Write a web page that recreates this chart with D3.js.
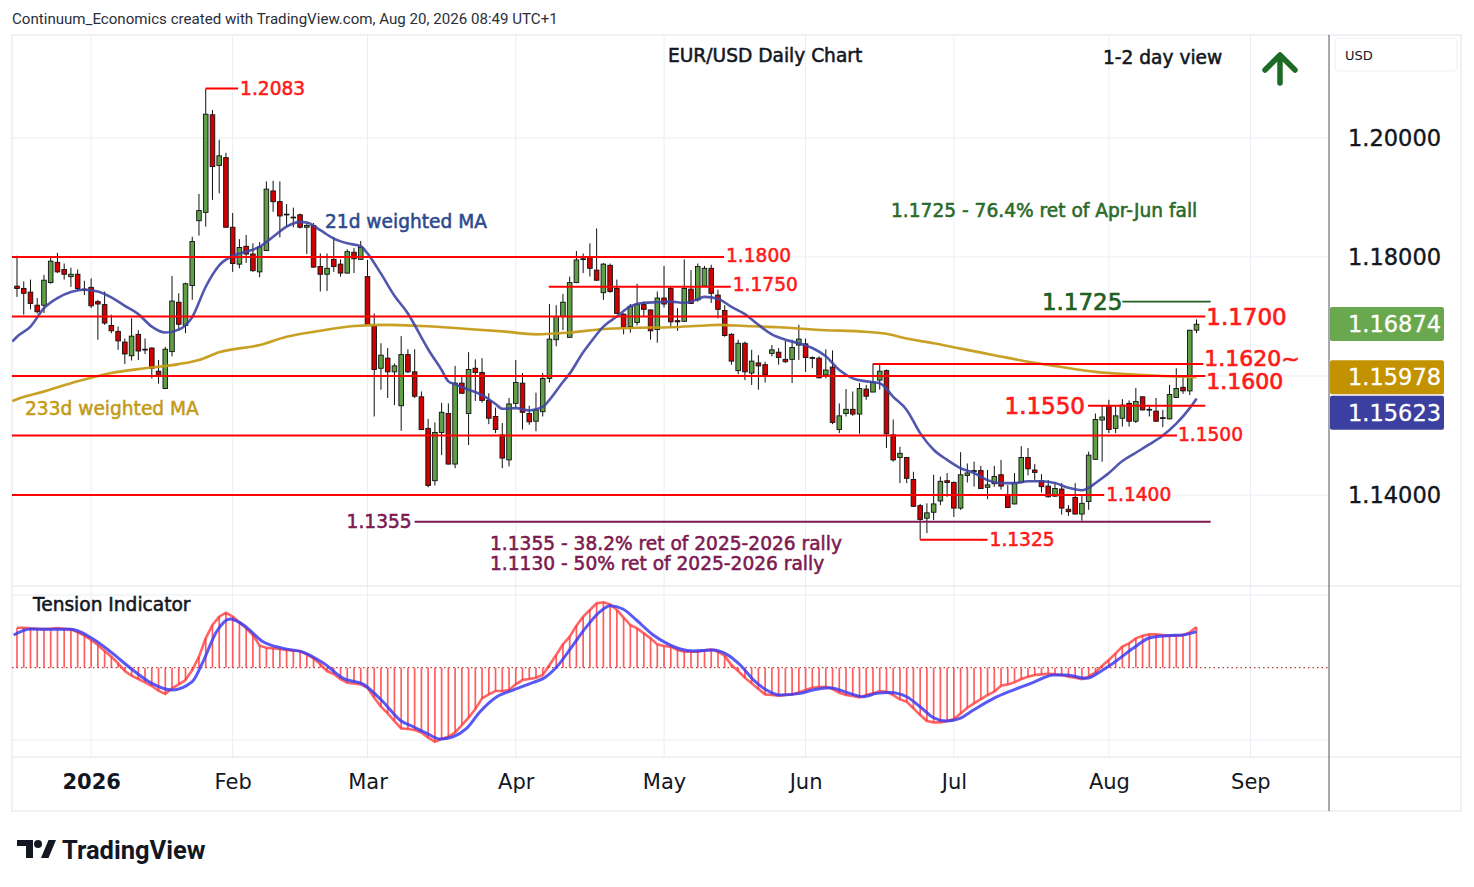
<!DOCTYPE html>
<html><head><meta charset="utf-8">
<script src="https://cdn.jsdelivr.net/npm/d3@7"></script>
<style>body{margin:0;background:#fff}</style>
</head><body>
<svg id="c" width="1474" height="887"></svg>
<script>
// ---------- DATA ----------
const firstBarDate = "2025-12-16";
const holidays = ["2025-12-25", "2026-01-01"];
// [open, high, low, close]
const candles = [
[1.1751,1.1802,1.1733,1.1747],[1.1747,1.1759,1.1703,1.1739],[1.1741,1.1762,1.1712,1.1722],[1.1719,1.1731,1.1705,1.1708],
[1.1719,1.1770,1.1706,1.1761],[1.1757,1.1801,1.1755,1.1793],[1.1791,1.1807,1.1773,1.1775],[1.1779,1.1789,1.1762,1.1771],
[1.1767,1.1782,1.1750,1.1771],[1.1771,1.1779,1.1743,1.1747],[1.1745,1.1760,1.1736,1.1746],[1.1749,1.1764,1.1714,1.1718],
[1.1725,1.1728,1.1661,1.1721],[1.1720,1.1742,1.1686,1.1689],[1.1685,1.1703,1.1672,1.1676],[1.1675,1.1683,1.1644,1.1659],
[1.1657,1.1663,1.1620,1.1637],[1.1634,1.1697,1.1626,1.1667],[1.1670,1.1677,1.1627,1.1642],[1.1645,1.1663,1.1637,1.1644],
[1.1647,1.1648,1.1596,1.1613],[1.1608,1.1627,1.1587,1.1599],[1.1579,1.1649,1.1578,1.1645],[1.1641,1.1768,1.1633,1.1726],
[1.1724,1.1739,1.1677,1.1687],[1.1685,1.1757,1.1672,1.1755],[1.1752,1.1834,1.1728,1.1826],[1.1861,1.1906,1.1836,1.1878],
[1.1875,1.2083,1.1851,1.2040],[1.2039,1.2047,1.1896,1.1952],[1.1954,1.1997,1.1907,1.1970],[1.1967,1.1975,1.1849,1.1850],
[1.1850,1.1874,1.1775,1.1789],[1.1788,1.1830,1.1781,1.1816],[1.1818,1.1837,1.1790,1.1805],[1.1805,1.1823,1.1775,1.1777],
[1.1775,1.1825,1.1766,1.1817],[1.1811,1.1927,1.1810,1.1914],[1.1911,1.1928,1.1876,1.1893],[1.1893,1.1927,1.1833,1.1869],
[1.1871,1.1889,1.1851,1.1872],[1.1867,1.1883,1.1850,1.1866],[1.1871,1.1873,1.1848,1.1850],[1.1850,1.1857,1.1805,1.1853],
[1.1853,1.1857,1.1782,1.1783],[1.1784,1.1806,1.1742,1.1771],[1.1771,1.1806,1.1743,1.1781],[1.1796,1.1834,1.1775,1.1784],
[1.1788,1.1796,1.1767,1.1773],[1.1773,1.1813,1.1772,1.1809],[1.1808,1.1815,1.1773,1.1797],[1.1796,1.1827,1.1795,1.1816],
[1.1767,1.1795,1.1686,1.1687],[1.1684,1.1705,1.1532,1.1611],[1.1613,1.1655,1.1577,1.1635],[1.1630,1.1647,1.1563,1.1607],
[1.1607,1.1621,1.1551,1.1617],[1.1550,1.1667,1.1508,1.1636],[1.1636,1.1645,1.1605,1.1607],[1.1607,1.1645,1.1563,1.1566],
[1.1565,1.1574,1.1509,1.1510],[1.1512,1.1528,1.1413,1.1416],[1.1424,1.1522,1.1416,1.1505],[1.1505,1.1555,1.1467,1.1539],
[1.1537,1.1554,1.1451,1.1452],[1.1452,1.1617,1.1445,1.1588],[1.1588,1.1599,1.1570,1.1571],[1.1537,1.1640,1.1484,1.1611],
[1.1613,1.1628,1.1558,1.1606],[1.1606,1.1630,1.1555,1.1559],[1.1559,1.1571,1.1519,1.1529],[1.1532,1.1547,1.1504,1.1510],
[1.1501,1.1521,1.1445,1.1462],[1.1459,1.1563,1.1448,1.1553],[1.1554,1.1627,1.1546,1.1589],[1.1588,1.1605,1.1510,1.1539],
[1.1537,1.1550,1.1518,1.1523],[1.1524,1.1572,1.1507,1.1543],[1.1540,1.1605,1.1532,1.1596],[1.1596,1.1721,1.1589,1.1662],
[1.1661,1.1719,1.1650,1.1700],[1.1700,1.1738,1.1677,1.1724],[1.1665,1.1767,1.1664,1.1757],[1.1757,1.1810,1.1756,1.1795],
[1.1796,1.1806,1.1773,1.1797],[1.1799,1.1823,1.1767,1.1781],[1.1778,1.1848,1.1760,1.1761],[1.1740,1.1790,1.1728,1.1788],
[1.1786,1.1789,1.1740,1.1742],[1.1747,1.1762,1.1704,1.1705],[1.1704,1.1705,1.1670,1.1682],[1.1683,1.1721,1.1673,1.1717],
[1.1690,1.1755,1.1685,1.1720],[1.1720,1.1725,1.1699,1.1712],[1.1711,1.1712,1.1661,1.1676],[1.1678,1.1742,1.1656,1.1731],
[1.1731,1.1785,1.1715,1.1721],[1.1747,1.1750,1.1684,1.1691],[1.1693,1.1714,1.1676,1.1691],[1.1692,1.1796,1.1691,1.1747],
[1.1746,1.1778,1.1721,1.1722],[1.1728,1.1789,1.1725,1.1784],[1.1751,1.1785,1.1750,1.1781],[1.1781,1.1787,1.1723,1.1739],
[1.1736,1.1745,1.1697,1.1712],[1.1710,1.1719,1.1666,1.1668],[1.1670,1.1672,1.1619,1.1625],[1.1609,1.1661,1.1603,1.1655],
[1.1655,1.1658,1.1593,1.1607],[1.1605,1.1644,1.1585,1.1625],[1.1622,1.1635,1.1577,1.1617],[1.1619,1.1624,1.1589,1.1602],
[1.1638,1.1652,1.1633,1.1644],[1.1640,1.1647,1.1619,1.1631],[1.1628,1.1659,1.1622,1.1624],[1.1628,1.1661,1.1588,1.1648],
[1.1652,1.1686,1.1627,1.1662],[1.1654,1.1663,1.1607,1.1631],[1.1631,1.1633,1.1613,1.1630],[1.1630,1.1633,1.1596,1.1597],
[1.1602,1.1645,1.1596,1.1610],[1.1615,1.1643,1.1519,1.1522],[1.1510,1.1554,1.1504,1.1533],[1.1537,1.1578,1.1532,1.1544],
[1.1544,1.1574,1.1533,1.1536],[1.1536,1.1588,1.1503,1.1579],[1.1578,1.1585,1.1560,1.1566],[1.1573,1.1621,1.1573,1.1589],
[1.1593,1.1621,1.1577,1.1608],[1.1609,1.1611,1.1479,1.1503],[1.1501,1.1527,1.1456,1.1459],[1.1463,1.1481,1.1420,1.1470],
[1.1463,1.1464,1.1420,1.1428],[1.1426,1.1439,1.1380,1.1381],[1.1382,1.1385,1.1325,1.1359],[1.1361,1.1386,1.1336,1.1370],
[1.1371,1.1434,1.1358,1.1385],[1.1390,1.1431,1.1383,1.1423],[1.1424,1.1437,1.1397,1.1421],[1.1421,1.1423,1.1363,1.1378],
[1.1378,1.1472,1.1375,1.1434],[1.1433,1.1453,1.1421,1.1437],[1.1440,1.1456,1.1414,1.1441],[1.1441,1.1449,1.1410,1.1411],
[1.1413,1.1442,1.1393,1.1417],[1.1419,1.1449,1.1414,1.1431],[1.1434,1.1459,1.1409,1.1415],[1.1401,1.1417,1.1378,1.1379],
[1.1385,1.1437,1.1384,1.1421],[1.1421,1.1482,1.1420,1.1463],[1.1463,1.1479,1.1433,1.1444],[1.1442,1.1452,1.1425,1.1438],
[1.1424,1.1435,1.1404,1.1414],[1.1415,1.1425,1.1396,1.1397],[1.1398,1.1421,1.1397,1.1411],[1.1410,1.1420,1.1367,1.1378],
[1.1376,1.1383,1.1365,1.1372],[1.1396,1.1420,1.1367,1.1368],[1.1368,1.1401,1.1357,1.1386],[1.1389,1.1473,1.1375,1.1467],
[1.1460,1.1537,1.1459,1.1527],[1.1526,1.1550,1.1456,1.1531],[1.1549,1.1560,1.1504,1.1510],[1.1512,1.1549,1.1504,1.1533],
[1.1529,1.1561,1.1515,1.1551],[1.1554,1.1559,1.1515,1.1524],[1.1524,1.1580,1.1521,1.1557],[1.1565,1.1566,1.1542,1.1543],
[1.1544,1.1550,1.1532,1.1543],[1.1541,1.1563,1.1523,1.1524],[1.1530,1.1543,1.1514,1.1529],[1.1528,1.1585,1.1527,1.1569],
[1.1564,1.1613,1.1563,1.1579],[1.1581,1.1599,1.1570,1.1575],[1.1575,1.1677,1.1568,1.1677],[1.1677,1.1695,1.1672,1.1687]
];
// [bar index, value]
const wma21 = [[-0.7,1.1658],[0,1.1666],[2,1.1683],[4,1.1714],[6,1.1731],[8,1.1741],[10,1.1745],[12,1.1742],[14,1.1732],[16,1.1718],
[18,1.1704],[20,1.1683],[22,1.1673],[24,1.1678],[26,1.1699],[28,1.1750],[30,1.1786],[32,1.1802],[34,1.1809],[36,1.1817],
[38,1.1834],[40,1.1851],[42,1.1859],[43,1.1858],[45,1.1845],[47,1.1831],[49,1.1823],[51,1.1818],[52,1.1806],[54,1.1772],
[56,1.1735],[58,1.1705],[60,1.1665],[61,1.1645],[63,1.1610],[64,1.1591],[65,1.1586],[67,1.1577],[69,1.1568],[71,1.1553],
[72,1.1545],[74,1.1546],[76,1.1542],[78,1.1548],[79,1.1560],[81,1.1590],[82,1.1604],[84,1.1640],[85,1.1655],[87,1.1683],
[89,1.1700],[91,1.1717],[93,1.1723],[95,1.1724],[97,1.1725],[99,1.1723],[101,1.1729],[102,1.1733],[104,1.1730],[106,1.1716],
[108,1.1704],[110,1.1686],[112,1.1670],[114,1.1661],[116,1.1655],[118,1.1647],[120,1.1633],[122,1.1610],[124,1.1596],
[126,1.1591],[128,1.1588],[130,1.1565],[132,1.1543],[134,1.1504],[136,1.1476],[138,1.1459],[140,1.1445],[142,1.1437],
[144,1.1425],[146,1.1420],[148,1.1420],[150,1.1423],[152,1.1423],[154,1.1420],[156,1.1412],[158,1.1408],[159,1.1412],
[160,1.1420],[162,1.1437],[164,1.1457],[166,1.1471],[168,1.1485],[170,1.1500],[172,1.1520],[174,1.1546],[175,1.1562]];
const wma233 = [[-0.7,1.1558],[0,1.1561],[4,1.1574],[9,1.1591],[14,1.1605],[19,1.1613],[24,1.1620],[27,1.1627],[30,1.1640],[36,1.1652],
[40,1.1666],[45,1.1676],[50,1.1684],[55,1.1686],[60,1.1684],[67,1.1679],[72,1.1675],[77,1.1670],[82,1.1673],[87,1.1679],
[92,1.1681],[97,1.1682],[102,1.1685],[104,1.1686],[108,1.1684],[113,1.1682],[120,1.1677],[125,1.1675],[129,1.1671],
[132,1.1663],[136,1.1655],[140,1.1646],[145,1.1635],[150,1.1624],[155,1.1615],[160,1.1607],[165,1.1603],[170,1.1600],[175,1.1598]];
// Tension indicator, one value per bar
const tension = [60,60,59,58.5,58,58.5,59.5,58.5,57.5,53,48,41.5,34,25,16.5,6.5,-5,-12,-17,-22,
-27.5,-34.5,-39.5,-31,-25,-18.5,-3.5,16.5,44,64,76.5,82.5,76.5,68,59,49,33,30,29,28,
26.5,25.5,25,20,14,5,-5,-9.5,-17,-22.5,-23.5,-25,-30,-45,-58.5,-68.5,-80,-91,-92,-93.5,
-97,-105,-111,-107,-103.5,-97,-86,-75,-62,-46,-40,-35,-35,-33.5,-25,-18.5,-17,-15,-11,4,
19,35,46.5,63,76.5,86.5,96.5,98,95,86.5,75,64,59,51.5,44,35,32.5,31.5,26.5,24,
24,24,26,27.5,24,18,4,-5,-15,-23.5,-32,-40,-41,-42,-41,-40,-37,-33.5,-30,-29,
-28.5,-32,-37.5,-41,-42.5,-44.5,-41,-38.5,-35,-36,-41,-47.5,-51,-61,-71,-80,-82,-82,-80,-77,
-68.5,-60,-53.5,-47,-41,-36,-27,-25,-22,-17,-13.5,-11,-10,-9,-10,-11,-13.5,-15,-17,-13.5,
-7,3,11.5,21.5,31.5,36.5,44,48,50,50,49,48,48,49,53,61];
// Tension signal line [bar position, value]
const tensionSignal = [[-0.5,49],[2,58],[5,57.5],[8,57.5],[11,45],[14,23],[17,-2],[20,-23.5],[23,-33.5],[26,-21],
[27.6,9],[29.6,54],[31.6,73],[33.6,64],[36.5,39],[39.5,29],[42.5,23],[45.5,6.5],[48.4,-16],[51.4,-25],[54.3,-51],
[57,-80],[58.8,-88.5],[60.8,-98.5],[62.8,-107],[64.7,-103.5],[66.7,-91],[68.7,-66],[71.2,-43.5],[73.6,-33.5],[76.6,-22],
[78.1,-16],[80.1,1.5],[82.5,34],[84.5,61.5],[86.5,84],[88,93],[89.9,88],[91.9,71.5],[94.4,49],[96.4,36.5],[98.4,28],
[100.3,25],[103.3,26.5],[105.3,20],[107.3,4],[109.3,-18.5],[111.2,-33.5],[113.2,-41],[116.2,-38.5],[118.1,-33.5],
[120.6,-30],[123.1,-37],[125.6,-43.5],[127.5,-38.5],[129.5,-37],[132,-43.5],[134,-58.5],[136,-75],[137.9,-80],
[139.9,-76],[141.9,-63.5],[144.9,-46],[147.8,-33.5],[150.8,-22],[153.8,-11],[155.7,-11],[158.7,-16],[160.7,-6],
[162.6,6.5],[165.6,29],[168.1,45],[170.6,48],[173,49],[175,54]];
const priceTicks = [1.14, 1.16, 1.18, 1.20];
// horizontal levels: [price, from bar, to bar]
const redLevels = [[1.2083,28,32.8],[1.18,-1,104.9],[1.175,78.9,105.9],[1.17,-1,176.3],[1.162,127,176],
[1.16,-1,176.3],[1.155,158.9,176.3],[1.15,-1,172.1],[1.14,-1,161.3],[1.1325,134,144]];
const greenLevel = [1.1725, 164, 177.1];
const maroonLevel = [1.1355, 59, 177.1];
const lastValues = [["1.16874", 1.16874, "#6aa84f"], ["1.15978", 1.15978, "#c29200"], ["1.15623", 1.15623, "#3b3f9f"]];

// ---------- BUILD ----------
const svg = d3.select("#c");
const W = 1474, H = 887;
const L = 12, R = 1329, TOP = 35, MAINB = 586, INDB = 757, BOT = 811, RIGHT = 1461;

// trading days
const dates = [];
{
  let d = new Date(firstBarDate + "T12:00:00Z");
  const fmt = d3.utcFormat("%Y-%m-%d");
  while (dates.length < 200) {
    const wd = d.getUTCDay();
    const s = fmt(d);
    if (wd !== 0 && wd !== 6 && !holidays.includes(s)) dates.push(new Date(d));
    d = new Date(d.getTime() + 86400000);
  }
}
const x = d3.scaleLinear().domain([0, 1]).range([17, 23.74]);
const y = d3.scaleLinear().domain([1.14, 1.20]).range([495, 138]);
const yi = d3.scaleLinear().domain([0, 100]).range([667.7, 601]);

// month ticks
const monthTicks = [];
dates.forEach((d, i) => {
  if (i > 0 && d.getUTCMonth() !== dates[i - 1].getUTCMonth() && x(i) < R) monthTicks.push(i);
});

svg.append("rect").attr("width", W).attr("height", H).attr("fill", "#fff");

// header
svg.append("text").attr("x", 12).attr("y", 24).attr("font-family", "Roboto").attr("font-size", 15.1)
  .attr("fill", "#2a2e39").text("Continuum_Economics created with TradingView.com, Aug 20, 2026 08:49 UTC+1");

// frame
svg.append("rect").attr("x", L).attr("y", TOP).attr("width", RIGHT - L).attr("height", BOT - TOP)
  .attr("fill", "none").attr("stroke", "#e0e3eb");

// gridlines
const grid = svg.append("g").attr("stroke", "#e9eef4").attr("stroke-width", 1);
monthTicks.forEach(i => grid.append("line").attr("x1", x(i)).attr("x2", x(i)).attr("y1", TOP).attr("y2", INDB));
priceTicks.forEach(p => grid.append("line").attr("x1", L).attr("x2", R).attr("y1", y(p)).attr("y2", y(p)));
[595, 740].forEach(v => grid.append("line").attr("x1", L).attr("x2", R).attr("y1", v).attr("y2", v));

// pane separators
svg.append("line").attr("x1", L).attr("x2", RIGHT).attr("y1", MAINB).attr("y2", MAINB).attr("stroke", "#e0e3eb");
svg.append("line").attr("x1", L).attr("x2", RIGHT).attr("y1", INDB).attr("y2", INDB).attr("stroke", "#e0e3eb");
svg.append("line").attr("x1", R).attr("x2", R).attr("y1", TOP).attr("y2", BOT).attr("stroke", "#50535e");

// clip
const defs = svg.append("defs");
defs.append("clipPath").attr("id", "mainClip").append("rect").attr("x", L).attr("y", TOP).attr("width", R - L).attr("height", MAINB - TOP);
defs.append("clipPath").attr("id", "indClip").append("rect").attr("x", L).attr("y", MAINB).attr("width", R - L).attr("height", INDB - MAINB);

const main = svg.append("g").attr("clip-path", "url(#mainClip)");

// candles
const cg = main.append("g");
const bw = 4.6;
candles.forEach((c, i) => {
  const [o, h, l, cl] = c;
  const cx = x(i);
  cg.append("line").attr("x1", cx).attr("x2", cx).attr("y1", y(h)).attr("y2", y(l)).attr("stroke", "#111").attr("stroke-width", 1);
  const top = y(Math.max(o, cl)), bot = y(Math.min(o, cl));
  cg.append("rect").attr("x", cx - bw / 2).attr("y", top).attr("width", bw).attr("height", Math.max(bot - top, 0.8))
    .attr("fill", cl >= o ? "#5f9f46" : "#cf0000").attr("stroke", "#111").attr("stroke-width", 0.9);
});

// moving averages
const maLine = d3.line().x(d => x(d[0])).y(d => y(d[1])).curve(d3.curveMonotoneX);
main.append("path").attr("d", maLine(wma233)).attr("fill", "none").attr("stroke", "#c49b18").attr("stroke-width", 2.6).attr("opacity", 0.95);
main.append("path").attr("d", maLine(wma21)).attr("fill", "none").attr("stroke", "#3f45a5").attr("stroke-width", 2.6).attr("opacity", 0.9);

// level lines
redLevels.forEach(([p, a, b]) => {
  main.append("line").attr("x1", x(a)).attr("x2", x(b)).attr("y1", y(p)).attr("y2", y(p)).attr("stroke", "#ff0000").attr("stroke-width", 2);
});
main.append("line").attr("x1", x(greenLevel[1])).attr("x2", x(greenLevel[2])).attr("y1", y(greenLevel[0])).attr("y2", y(greenLevel[0]))
  .attr("stroke", "#1f5f22").attr("stroke-width", 1.6);
main.append("line").attr("x1", x(maroonLevel[1])).attr("x2", x(maroonLevel[2])).attr("y1", y(maroonLevel[0])).attr("y2", y(maroonLevel[0]))
  .attr("stroke", "#7d1a4f").attr("stroke-width", 2);

// annotation texts
function ann(txt, px, py, size, color, anchor) {
  return svg.append("text").attr("x", px).attr("y", py).attr("font-family", "DejaVu Sans").attr("font-size", size)
    .attr("fill", color).attr("stroke", color).attr("stroke-width", size > 20 ? 0.7 : 0.55)
    .attr("dominant-baseline", "central").attr("text-anchor", anchor || "start").text(txt);
}
const RED = "#ff1a1a";
ann("1.2083", x(32.8) + 2, y(1.2083), 18.6, RED);
ann("1.1800", x(104.9) + 2, y(1.18) - 1.5, 18.6, RED);
ann("1.1750", x(105.9) + 2, y(1.175) - 2.5, 18.6, RED);
ann("1.1700", x(176.3) + 1, y(1.17), 23, RED);
ann("1.1620~", x(176) + 1, y(1.162) - 5.5, 22, RED);
ann("1.1600", x(176.3) + 1, y(1.16) + 5.5, 22, RED);
ann("1.1550", x(158.9) - 3, y(1.155), 23, RED, "end");
ann("1.1500", x(172.1) + 1, y(1.15) - 1.5, 18.6, RED);
ann("1.1400", x(161.3) + 2, y(1.14) - 1, 18.6, RED);
ann("1.1325", x(144) + 2, y(1.1325), 18.6, RED);
ann("1.1725", x(greenLevel[1]), y(1.1725), 23, "#1f5f22", "end");
ann("1.1725 - 76.4% ret of Apr-Jun fall", 891, 210, 18.6, "#2a6a2a");
ann("1.1355", x(maroonLevel[1]) - 3, y(1.1355), 18.6, "#7d1a4f", "end");
ann("1.1355 - 38.2% ret of 2025-2026 rally", 490, 543, 18.6, "#7d1a4f");
ann("1.1130 - 50% ret of 2025-2026 rally", 490, 563, 18.6, "#7d1a4f");
ann("21d weighted MA", 325, 221, 18.6, "#2c4a8e");
ann("233d weighted MA", 25, 408, 18.6, "#c49b18");
ann("EUR/USD Daily Chart", 668, 55, 18.6, "#131722");
ann("1-2 day view", 1103, 57, 18.6, "#131722");
ann("Tension Indicator", 33, 604, 18.6, "#131722");

// green arrow
svg.append("path").attr("d", "M1280,83 L1280,56 M1265,70 L1280,55 L1295,70").attr("fill", "none")
  .attr("stroke", "#1e6b25").attr("stroke-width", 5.5).attr("stroke-linecap", "round").attr("stroke-linejoin", "round");

// indicator pane
const ind = svg.append("g").attr("clip-path", "url(#indClip)");
ind.append("line").attr("x1", L).attr("x2", R).attr("y1", yi(0)).attr("y2", yi(0)).attr("stroke", "#a01010")
  .attr("stroke-width", 1).attr("stroke-dasharray", "1.5,3");
tension.forEach((v, i) => {
  ind.append("line").attr("x1", x(i)).attr("x2", x(i)).attr("y1", yi(0)).attr("y2", yi(v))
    .attr("stroke", "rgba(255,40,40,0.75)").attr("stroke-width", 1.7);
});
ind.append("path").attr("d", d3.line().x((d, i) => x(i)).y(d => yi(d))(tension)).attr("fill", "none")
  .attr("stroke", "rgba(255,50,50,0.75)").attr("stroke-width", 2.6);
ind.append("path").attr("d", d3.line().x(d => x(d[0])).y(d => yi(d[1])).curve(d3.curveMonotoneX)(tensionSignal))
  .attr("fill", "none").attr("stroke", "rgba(60,60,245,0.85)").attr("stroke-width", 3);

// x axis
const xAxis = d3.axisBottom(x).tickValues(monthTicks).tickSize(0).tickPadding(0)
  .tickFormat(i => dates[i].getUTCMonth() === 0 ? d3.utcFormat("%Y")(dates[i]) : d3.utcFormat("%b")(dates[i]));
const xg = svg.append("g").attr("transform", `translate(0,${INDB})`).call(xAxis);
xg.select(".domain").remove();
xg.selectAll("text").attr("font-family", "DejaVu Sans").attr("font-size", 21).attr("fill", "#131722")
  .attr("dy", 0).attr("y", 32)
  .attr("font-weight", i => dates[i].getUTCMonth() === 0 ? "bold" : "normal");

// y axis
const yAxis = d3.axisRight(y).tickValues(priceTicks).tickSize(0).tickPadding(0).tickFormat(d3.format(".5f"));
const yg = svg.append("g").attr("transform", `translate(${R + 19},0)`).call(yAxis);
yg.select(".domain").remove();
yg.selectAll("text").attr("font-family", "DejaVu Sans").attr("font-size", 22.5).attr("fill", "#131722")
  .attr("stroke", "#131722").attr("stroke-width", 0.4);

// last value labels
const lvTargets = lastValues.map(d => y(d[1]));
lvTargets[2] = Math.max(lvTargets[2], lvTargets[1] + 35.5);
lastValues.forEach((d, k) => {
  const cy = lvTargets[k];
  svg.append("rect").attr("x", R + 1).attr("y", cy - 17).attr("width", 114).attr("height", 34).attr("rx", 2).attr("fill", d[2]);
  svg.append("text").attr("x", R + 19).attr("y", cy).attr("dominant-baseline", "central").attr("font-family", "DejaVu Sans")
    .attr("font-size", 22.5).attr("fill", "#fff").attr("stroke", "#fff").attr("stroke-width", 0.3).text(d[0]);
});

// USD box
svg.append("rect").attr("x", 1335).attr("y", 38).attr("width", 122).attr("height", 33).attr("rx", 4)
  .attr("fill", "#fff").attr("stroke", "#eceef2");
svg.append("text").attr("x", 1345).attr("y", 55).attr("dominant-baseline", "central").attr("font-family", "DejaVu Sans")
  .attr("font-size", 13).attr("fill", "#131722").text("USD");

// TradingView logo
const logo = svg.append("g").attr("fill", "#131722");
logo.append("path").attr("d", "M17,840 H33 V858 H26 V846 H17 Z");
logo.append("circle").attr("cx", 38).attr("cy", 844).attr("r", 4);
logo.append("path").attr("d", "M41,858 L48.5,840 H56 L48.5,858 Z");
svg.append("text").attr("x", 62).attr("y", 859).attr("font-family", "Roboto").attr("font-weight", 700)
  .attr("font-size", 25.5).attr("fill", "#131722").text("TradingView");
</script>
</body></html>
